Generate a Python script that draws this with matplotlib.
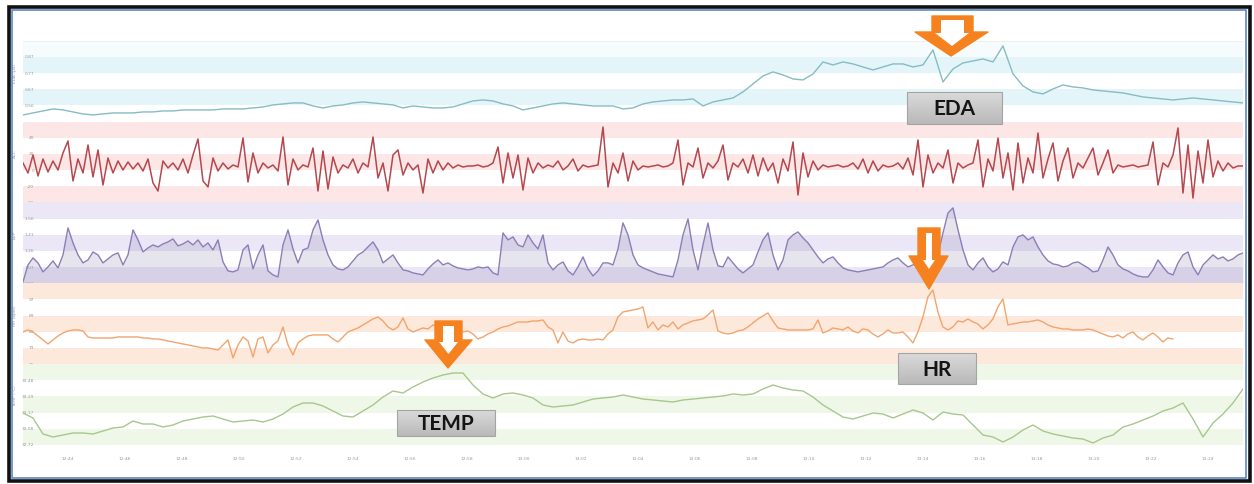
import numpy as np
import matplotlib.pyplot as plt
from matplotlib.patches import Polygon, Rectangle
from matplotlib.colors import to_rgb

W, H = 1254, 484

# time axis (minutes after 12:44)
t_first, t_last = -1.58, 41.23
hr_last = 38.77
tick_minutes = [0, 2, 4, 6, 8, 10, 12, 14, 16, 18, 20, 22, 24, 26, 28, 30, 32, 34, 36, 38, 40]
tick_labels = ['12:44', '12:46', '12:48', '12:50', '12:52', '12:54', '12:56', '12:58', '13:00', '13:02',
               '13:04', '13:06', '13:08', '13:10', '13:12', '13:14', '13:16', '13:18', '13:20', '13:22', '13:24']

# signals (height above panel bottom)
eda = [7, 9, 11, 13, 12, 10, 8, 7, 8, 9,
       9, 9, 10, 10, 11, 11, 12, 12, 12, 12,
       13, 13, 13, 14, 15, 17, 18, 19, 19, 16,
       14, 16, 17, 19, 20, 19, 18, 17, 14, 16,
       15, 14, 14, 15, 18, 21, 22, 21, 18, 16,
       12, 14, 16, 18, 19, 18, 17, 16, 16, 16,
       13, 14, 18, 20, 21, 22, 22, 23, 16, 20,
       22, 24, 30, 38, 46, 50, 47, 43, 42, 48,
       60, 57, 60, 58, 55, 52, 55, 58, 58, 55,
       57, 72, 40, 53, 59, 61, 63, 60, 76, 48,
       36, 30, 28, 33, 37, 35, 34, 32, 31, 30,
       29, 27, 25, 24, 23, 22, 23, 24, 23, 22,
       21, 20, 19]

acc = [40, 30, 48, 27, 44, 31, 42, 33, 50, 62,
       22, 44, 30, 58, 26, 53, 18, 45, 30, 42,
       33, 41, 34, 40, 32, 44, 20, 12, 42, 35,
       40, 33, 44, 30, 48, 64, 22, 16, 45, 32,
       40, 34, 38, 36, 65, 21, 50, 30, 40, 35,
       38, 32, 66, 18, 44, 33, 38, 36, 55, 12,
       52, 14, 46, 30, 38, 35, 44, 30, 40, 36,
       66, 25, 40, 12, 48, 53, 28, 40, 33, 38,
       10, 44, 30, 42, 33, 40, 35, 38, 36, 37,
       37, 38, 36, 37, 40, 56, 20, 50, 25, 48,
       13, 45, 30, 40, 35, 38, 36, 42, 33, 37,
       44, 32, 38, 36, 37, 38, 76, 16, 40, 30,
       50, 22, 42, 33, 37, 36, 37, 38, 36, 37,
       40, 63, 18, 40, 36, 55, 25, 40, 35, 42,
       58, 23, 40, 36, 44, 30, 48, 27, 45, 32,
       40, 20, 44, 32, 61, 8, 50, 26, 42, 33,
       38, 36, 37, 38, 36, 37, 40, 34, 44, 30,
       42, 32, 38, 36, 37, 40, 34, 45, 28, 63,
       16, 48, 30, 40, 35, 53, 20, 40, 35, 38,
       40, 63, 16, 44, 32, 65, 25, 50, 13, 60,
       20, 45, 30, 70, 25, 44, 60, 22, 42, 55,
       25, 40, 35, 45, 55, 28, 40, 53, 30, 38,
       36, 37, 38, 36, 37, 38, 61, 18, 40, 36,
       48, 75, 10, 58, 5, 52, 20, 63, 26, 42,
       32, 40, 35, 37, 37]

bvp = [3, 20, 27, 22, 13, 18, 24, 17, 30, 57,
       42, 30, 22, 25, 33, 30, 22, 26, 30, 32,
       20, 30, 55, 45, 33, 37, 40, 38, 41, 43,
       46, 39, 41, 44, 40, 45, 38, 42, 35, 45,
       23, 14, 13, 15, 35, 40, 16, 30, 40, 14,
       10, 8, 40, 55, 36, 22, 35, 37, 55, 65,
       45, 30, 20, 16, 15, 18, 24, 30, 33, 38,
       43, 35, 22, 26, 30, 22, 15, 14, 12, 11,
       10, 16, 21, 25, 20, 22, 19, 17, 16, 15,
       16, 18, 17, 18, 12, 10, 52, 45, 48, 40,
       38, 50, 42, 36, 50, 22, 15, 20, 23, 14,
       10, 18, 28, 16, 9, 14, 22, 22, 20, 36,
       62, 50, 30, 20, 17, 15, 13, 11, 10, 9,
       8, 25, 50, 66, 35, 15, 40, 62, 35, 19,
       18, 28, 22, 16, 12, 16, 20, 33, 45, 52,
       30, 15, 25, 45, 50, 53, 47, 42, 35, 28,
       22, 26, 28, 22, 17, 15, 14, 13, 14, 15,
       16, 17, 18, 22, 25, 27, 22, 18, 20, 24,
       22, 28, 25, 30, 52, 72, 77, 55, 35, 20,
       15, 22, 27, 18, 13, 16, 23, 20, 38, 48,
       50, 45, 48, 38, 30, 24, 21, 20, 18, 19,
       22, 23, 20, 17, 13, 14, 25, 38, 30, 20,
       16, 14, 11, 9, 8, 8, 15, 25, 18, 12,
       10, 22, 30, 33, 18, 10, 20, 25, 30, 26,
       28, 24, 26, 30, 32]

hr = [35, 37, 35, 31, 27, 23, 27, 31, 34, 36,
      37, 37, 36, 30, 29, 29, 29, 29, 29, 30,
      30, 30, 30, 30, 29, 29, 28, 28, 27, 26,
      25, 24, 23, 22, 21, 20, 19, 19, 18, 17,
      22, 27, 9, 22, 30, 26, 10, 28, 30, 14,
      22, 26, 40, 22, 12, 24, 28, 31, 32, 32,
      32, 32, 28, 25, 30, 35, 37, 39, 42, 45,
      48, 50, 46, 40, 37, 40, 49, 38, 35, 37,
      39, 38, 42, 40, 35, 39, 36, 38, 35, 36,
      33, 28, 30, 33, 35, 38, 40, 41, 43, 45,
      45, 45, 46, 46, 47, 40, 37, 24, 35, 26,
      24, 27, 28, 27, 27, 28, 27, 33, 37, 50,
      55, 56, 57, 58, 60, 39, 45, 37, 42, 40,
      45, 38, 42, 44, 46, 47, 48, 52, 57, 36,
      34, 33, 34, 36, 37, 40, 44, 48, 51, 54,
      46, 39, 38, 37, 37, 37, 37, 37, 38, 47,
      34, 36, 39, 38, 37, 40, 36, 34, 38, 37,
      33, 30, 33, 37, 34, 34, 35, 30, 24, 35,
      50, 70, 77, 55, 40, 37, 40, 46, 45, 48,
      45, 43, 38, 42, 48, 60, 68, 42, 43, 44,
      45, 45, 46, 47, 45, 42, 40, 39, 38, 38,
      37, 37, 37, 38, 37, 35, 33, 31, 30, 32,
      29, 33, 35, 30, 27, 31, 34, 30, 25, 29,
      28]

temp = [36, 31, 15, 12, 14, 16, 16, 15, 18, 21,
        22, 28, 25, 25, 22, 24, 28, 30, 32, 33,
        30, 27, 28, 29, 27, 30, 35, 42, 46, 46,
        43, 38, 33, 32, 38, 44, 52, 58, 56, 62,
        67, 71, 74, 76, 76, 64, 55, 51, 55, 56,
        54, 51, 44, 42, 43, 44, 47, 50, 51, 52,
        54, 52, 50, 49, 48, 47, 49, 50, 51, 52,
        53, 55, 54, 55, 60, 64, 61, 59, 58, 52,
        44, 38, 32, 30, 33, 36, 35, 31, 35, 39,
        36, 29, 37, 35, 34, 24, 14, 12, 7, 12,
        19, 24, 18, 15, 13, 11, 10, 6, 11, 14,
        22, 25, 29, 33, 38, 41, 46, 30, 12, 26,
        35, 46, 60]

eda_ticks = ['0.87', '0.77', '0.67', '0.56']
acc_ticks = ['40', '20', '0', '-20', '-40']
bvp_ticks = ['1.56', '1.41', '1.26', '1.07', '0.92']
hr_ticks = ['97', '89', '81', '73', '65']
temp_ticks = ['33.48', '33.29', '33.17', '33.08', '32.72']

# name, values, end time, line colour, band colour, coloured bands, tick labels, y offset
panels = [
    ('EDA (μS)', eda, t_last, '#86bcc4', '#e3f5f8', [1, 3], eda_ticks, 0.3),
    ('ACC', acc, t_last, '#b5474e', '#fce6e6', [0, 2, 4], acc_ticks, 0.5),
    ('BVP', bvp, t_last, '#8a7fb6', '#ebe7f6', [0, 2, 4], bvp_ticks, 1.6),
    ('HR (bpm)', hr, hr_last, '#f2a46e', '#fde9dc', [0, 2, 4], hr_ticks, 2.8),
    ('TEMP (°C)', temp, t_last, '#a8c78e', '#eff8e8', [0, 2, 4], temp_ticks, 4.0),
]

fig = plt.figure(figsize=(W / 100, H / 100), dpi=100)
fig.patch.set_facecolor('white')

left_px, right_px = 23, 1243
top_px, bottom_px = 40.8, 445.0
ph = (bottom_px - top_px) / 5
bh = ph / 5

for i, (name, vals, t_end, lc, bc, colored, tlabels, lo) in enumerate(panels):
    y_top = top_px + i * ph
    ax = fig.add_axes([left_px / W, 1 - (y_top + ph) / H, (right_px - left_px) / W, ph / H])
    ax.set_xlim(t_first, t_last)
    ax.set_ylim(lo, lo + ph)
    for k in range(5):
        if k in colored:
            ax.axhspan(lo + k * bh, lo + (k + 1) * bh, color=bc, lw=0, zorder=0)
    if i == 0:
        ax.axhspan(lo + 4 * bh, lo + 5 * bh, color='#f6fcfd', lw=0, zorder=0)
        ax.axhline(lo + ph - 0.5, color='#eeeeee', lw=0.6, zorder=0)
    t = np.linspace(t_first, t_end, len(vals))
    if name == 'BVP':
        ax.fill_between(t, lo, vals, color='#857ca6', alpha=0.2, lw=0, zorder=1)
    ax.plot(t, vals, color=lc, lw=1.1 if name == 'ACC' else 1.0, zorder=2)

    if i == 0:
        ypos = [lo + k * bh for k in (4, 3, 2, 1)]
    else:
        ypos = [lo + k * bh for k in (4, 3, 2, 1, 0)]
    ax.set_yticks(ypos)
    ax.set_yticklabels(tlabels)
    ax.tick_params(axis='y', length=0, pad=-8, labelsize=3.2, labelcolor='#9a9a9a')
    ax.set_ylabel(name, fontsize=3.2, color='#9a9a9a')
    ax.yaxis.set_label_coords(-0.005, 0.6)
    for s in ax.spines.values():
        s.set_visible(False)
    ax.patch.set_alpha(0)
    if i < 4:
        ax.set_xticks([])
    else:
        ax.set_xticks(tick_minutes)
        ax.set_xticklabels(tick_labels)
        ax.tick_params(axis='x', length=0, pad=9, labelsize=3.2, labelcolor='#9a9a9a')

# overlay in pixel coordinates for frame, arrows and callouts
ov = fig.add_axes([0, 0, 1, 1])
ov.patch.set_alpha(0)

orange = '#f5821f'
arrows = [
    ([(932, 16), (973, 16), (973, 32), (988, 32), (951, 56), (915, 32), (932, 32)],
     [(941, 20), (964, 20), (964, 33), (969, 33), (952, 46), (935, 33), (941, 33)]),
    ([(918, 228), (940, 228), (940, 256), (948, 256), (929, 289), (909, 256), (918, 256)],
     [(926, 233), (932, 233), (932, 260), (935, 260), (929, 269), (923, 260), (926, 260)]),
    ([(435, 321), (462, 321), (462, 340), (472, 340), (448, 368), (425, 340), (435, 340)],
     [(443, 326), (454, 326), (454, 342), (458, 342), (448.5, 354), (439, 342), (443, 342)]),
]
for outer, inner in arrows:
    ov.add_patch(Polygon(outer, closed=True, facecolor=orange, edgecolor=orange, lw=1,
                         joinstyle='round', zorder=5))
    ov.add_patch(Polygon(inner, closed=True, facecolor='white', edgecolor='none', zorder=6))

# light grey vertical gradient for the callout boxes
c_top, c_bot = np.array(to_rgb('#dadada')), np.array(to_rgb('#b9b9b9'))
f = np.linspace(0, 1, 40)[:, None, None]
grad = c_top * (1 - f) + c_bot * f

boxes = [('EDA', 907, 92, 1002, 124), ('HR', 898, 353, 976, 384), ('TEMP', 397, 410, 495, 436)]
for label, x0, y0, x1, y1 in boxes:
    ov.imshow(grad, extent=(x0, x1, y1, y0), aspect='auto', zorder=5, interpolation='bilinear')
    ov.add_patch(Rectangle((x0, y0), x1 - x0, y1 - y0, fill=False, edgecolor='#a4a4a4', lw=0.8, zorder=6))
    ov.text((x0 + x1) / 2, (y0 + y1) / 2 + 1, label, ha='center', va='center', fontsize=15,
            fontweight='bold', color='#141414', family=['Lato', 'DejaVu Sans'], zorder=7)

ov.add_patch(Rectangle((11.5, 9.5), 1234.5, 468, fill=False, edgecolor='#5b88c4', lw=1.2, zorder=8))
ov.add_patch(Rectangle((8.5, 6.5), 1241, 474, fill=False, edgecolor='#111111', lw=2.6, zorder=9))

ov.set_xlim(0, W)
ov.set_ylim(H, 0)
ov.axis('off')

fig.savefig('out.png', dpi=100)
